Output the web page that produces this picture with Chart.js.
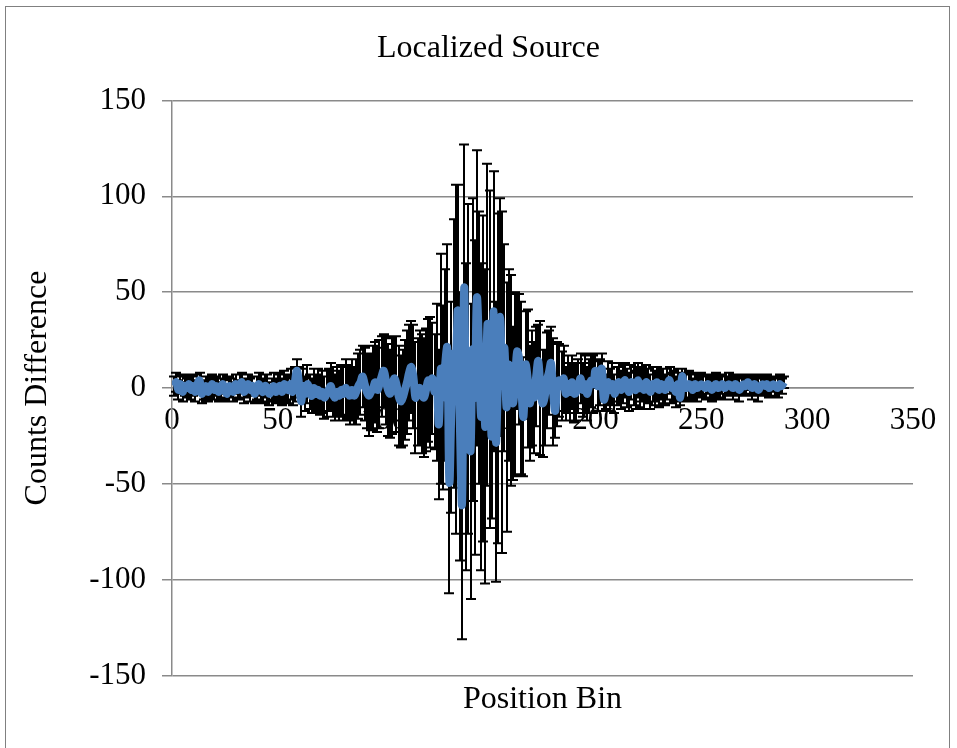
<!DOCTYPE html>
<html>
<head>
<meta charset="utf-8">
<script src="https://cdn.jsdelivr.net/npm/chart.js@4.4.1/dist/chart.umd.min.js"></script>
<style>
    html, body { margin: 0; padding: 0; background: #fff; }
    #wrap { position: relative; width: 957px; height: 748px; overflow: hidden; }
    #frame { position: absolute; left: 5px; top: 6px; width: 945px; height: 780px; border: 1px solid #808080; box-sizing: border-box; }
    #box { position: absolute; left: 0; top: 0; width: 957px; height: 748px; }
</style>
</head>
<body>
<div id="wrap">
    <div id="frame"></div>
    <div id="box"><canvas id="mainChart"></canvas></div>
</div>
<script>
// Counts difference per position bin (bins 1..289)
const countsDiff = [
    1, 3, -1, 2, -2, 1, 0, 2, -1, 1,
    -2, 2, 4, -3, -1, 1, -2, 0, 2, -1,
    1, -2, 0, 2, -1, -3, 1, 0, -2, 2,
    -1, 1, 3, -2, 0, 2, -1, 1, -3, 0,
    2, -1, -2, 1, 0, -3, -1, 1, -2, 0,
    1, -2, 2, 0, -1, 2, -2, 3, 9, 2,
    -7, 1, -3, 2, -2, -4, 0, -3, -1, -4,
    -2, -5, -3, -1, 1, -3, -5, -2, -4, -1,
    -3, 0, -2, -4, -1, -4, -2, 1, 3, 6,
    2, -2, -4, -2, 0, 3, -1, 2, 6, 9,
    4, -1, -3, 1, 5, 2, -4, -7, -5, -1,
    3, 8, 11, 6, -5, -2, 0, -3, -5, -1,
    4, 3, 5, -2, 3, -19, 10, -5, 12, 21,
    -49, -10, 18, 15, 40, -20, -60, 52, -15, 10,
    -33, 20, -5, 47, 21, -15, 5, -20, 33, 15,
    -25, 40, -28, 5, 37, 3, 21, -10, 12, 4,
    -8, 2, 19, 15, 0, -15, 12, 5, -8, 0,
    -5, 6, 14, 0, -8, -5, 4, 8, 13, -2,
    -12, 2, 4, 1, 5, -3, 2, -2, 3, -3,
    -2, 1, 5, -1, 2, -3, 1, 4, 2, 9,
    1, 3, 10, -6, -2, 3, -1, 2, -3, 1,
    3, -1, 2, 4, 0, -2, 3, 1, -1, 4,
    0, 2, -1, 3, 1, -2, 2, 0, 3, -1,
    2, 1, -1, 2, 4, 0, 1, -2, 2, -5,
    6, 1, 0, 2, 1, -1, 2, 0, 1, 2,
    1, 0, 2, 1, -1, 1, 2, 0, 1, 2,
    0, 1, 2, 1, 0, 2, 1, -1, 1, 2,
    1, 3, 1, 0, 2, 1, -1, 1, 2, 1,
    2, 0, 1, 2, 1, 0, 2, 1, 3
];

// Error bar half widths, same bins
const countsErr = [
    5, 5, 5, 5, 5, 5, 5, 5, 5, 5,
    5, 5, 4, 5, 5, 5, 5, 5, 5, 5,
    5, 5, 5, 5, 5, 4, 5, 5, 5, 5,
    5, 6, 5, 6, 5, 5, 6, 5, 5, 6,
    6, 6, 6, 6, 7, 6, 6, 7, 6, 7,
    7, 7, 7, 7, 7, 8, 7, 8, 6, 9,
    8, 9, 9, 10, 9, 9, 10, 10, 11, 10,
    11, 11, 12, 11, 12, 12, 12, 13, 13, 13,
    14, 15, 14, 15, 16, 15, 17, 17, 17, 16,
    19, 19, 21, 20, 22, 21, 22, 23, 21, 19,
    23, 24, 23, 25, 22, 25, 26, 24, 25, 26,
    27, 25, 24, 27, 29, 28, 30, 31, 31, 32,
    32, 34, 29, 30, 41, 39, 60, 48, 50, 54,
    58, 55, 70, 91, 66, 70, 71, 75, 80, 86,
    77, 79, 82, 77, 71, 80, 85, 82, 84, 88,
    43, 73, 73, 86, 62, 89, 54, 65, 50, 55,
    40, 48, 30, 34, 45, 31, 28, 36, 30, 30,
    29, 26, 19, 35, 28, 25, 25, 22, 19, 28,
    14, 22, 19, 18, 17, 14, 15, 15, 14, 15,
    15, 14, 13, 14, 15, 14, 14, 14, 15, 9,
    13, 12, 8, 6, 9, 11, 11, 11, 10, 10,
    10, 10, 10, 9, 10, 10, 9, 10, 10, 9,
    10, 9, 10, 9, 9, 9, 9, 9, 8, 9,
    8, 9, 8, 8, 7, 8, 8, 8, 8, 4,
    4, 7, 7, 7, 7, 6, 6, 7, 6, 6,
    6, 6, 5, 6, 6, 5, 6, 6, 6, 5,
    6, 5, 6, 5, 6, 5, 5, 6, 5, 5,
    5, 4, 5, 6, 5, 5, 6, 5, 5, 5,
    5, 5, 5, 4, 5, 5, 5, 4, 3
];

const xTicks = [0, 50, 100, 150, 200, 250, 300, 350];
const yTicks = [-150, -100, -50, 0, 50, 100, 150];

const serif = 'Liberation Serif';
const gridGray = '#8a8a8a';

const points = countsDiff.map((v, i) => ({ x: i + 1, y: v }));

// Vertical error bars with caps, drawn under the line
const errorBars = {
    id: 'errorBars',
    beforeDatasetsDraw(chart) {
        const { ctx, scales: { x, y } } = chart;
        ctx.save();
        ctx.strokeStyle = '#000';
        ctx.lineWidth = 2;
        ctx.beginPath();
        points.forEach((p, i) => {
            const px = Math.round(x.getPixelForValue(p.x));
            const top = y.getPixelForValue(p.y + countsErr[i]);
            const bot = y.getPixelForValue(p.y - countsErr[i]);
            ctx.moveTo(px, top);
            ctx.lineTo(px, bot);
            ctx.moveTo(px - 5, top);
            ctx.lineTo(px + 5, top);
            ctx.moveTo(px - 5, bot);
            ctx.lineTo(px + 5, bot);
        });
        ctx.stroke();
        ctx.restore();
    }
};

new Chart(document.getElementById('mainChart'), {
    type: 'scatter',
    data: {
        datasets: [{
            data: points,
            showLine: true,
            borderColor: '#4a7ebb',
            borderWidth: 8,
            tension: 0.4,
            pointRadius: 0,
            fill: false
        }]
    },
    options: {
        responsive: true,
        maintainAspectRatio: false,
        animation: false,
        layout: { padding: { left: 64, right: 44, top: 10, bottom: 4 } },
        plugins: {
            legend: { display: false },
            tooltip: { enabled: false },
            title: {
                display: true,
                text: 'Localized Source',
                color: '#000',
                font: { family: serif, size: 32, weight: 'normal' },
                padding: { top: 19, bottom: 33 }
            }
        },
        scales: {
            x: {
                type: 'linear',
                position: { y: 0 },
                min: 0,
                max: 350,
                afterBuildTicks: (axis) => { axis.ticks = xTicks.map(v => ({ value: v })); },
                grid: { display: false, drawTicks: false },
                border: { display: true, color: gridGray, width: 1.5 },
                ticks: {
                    color: '#000',
                    padding: 14,
                    maxRotation: 0,
                    font: { family: serif, size: 31 }
                }
            },
            x2: {
                type: 'linear',
                position: 'bottom',
                grid: { display: false, drawTicks: false },
                border: { display: false },
                ticks: { display: false },
                title: {
                    display: true,
                    text: 'Position Bin',
                    color: '#000',
                    font: { family: serif, size: 32 },
                    padding: { top: 5, bottom: 25 }
                }
            },
            y: {
                type: 'linear',
                min: -150,
                max: 150,
                afterBuildTicks: (axis) => { axis.ticks = yTicks.map(v => ({ value: v })); },
                afterFit: (axis) => { axis.width = 108; },
                grid: { color: gridGray, lineWidth: 1.5, tickLength: 10 },
                border: { display: true, color: gridGray, width: 1.5 },
                ticks: {
                    color: '#000',
                    padding: 16,
                    font: { family: serif, size: 31 }
                },
                title: {
                    display: true,
                    text: 'Counts Difference',
                    color: '#000',
                    font: { family: serif, size: 32 },
                    padding: { top: -46, bottom: 0 }
                }
            }
        }
    },
    plugins: [errorBars]
});
</script>
</body>
</html>
